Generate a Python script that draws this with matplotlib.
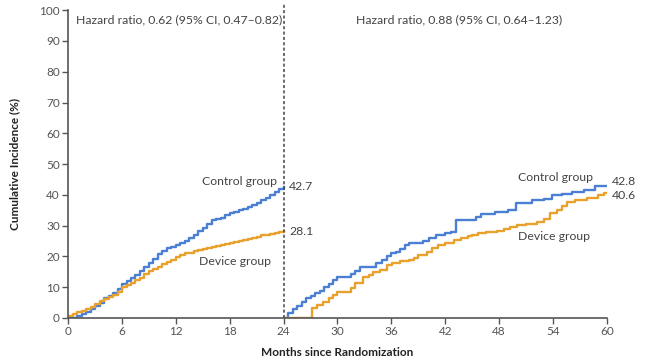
import matplotlib
matplotlib.use("Agg")
import matplotlib.pyplot as plt

# Months and cumulative incidence (%), first period 0-24
t1 = [0, 0.5, 1, 1.5, 2, 2.5, 3, 3.5, 4, 4.5, 5, 5.5, 6, 6.5, 7, 7.5, 8, 8.5,
      9, 9.5, 10, 10.5, 11, 11.5, 12, 12.5, 13, 13.5, 14, 14.5, 15, 15.5, 16,
      16.5, 17, 17.5, 18, 18.5, 19, 19.5, 20, 20.5, 21, 21.5, 22, 22.5, 23,
      23.5, 24]
control1 = [0, 0, 0.5, 1.2, 2, 2.8, 3.8, 5, 6.5, 7.2, 8, 9.5, 11, 12, 13, 14,
            15.3, 16.5, 17.8, 19.3, 20.8, 21.8, 22.6, 23, 23.6, 24.2, 25, 26,
            27, 28.2, 29.3, 30.6, 31.8, 32.3, 32.6, 33.3, 34, 34.5, 35, 35.5,
            36.1, 36.8, 37.5, 38.2, 38.9, 39.8, 40.8, 41.8, 42.7]
device1 = [0.5, 1.2, 1.8, 2.3, 3, 3.6, 4.5, 5.5, 6.3, 6.8, 7.5, 8.6, 10, 10.8,
           11.5, 12.2, 13, 14.2, 15.3, 16, 16.6, 17.4, 18.3, 19, 19.8, 20.4,
           21, 21.2, 21.6, 22, 22.3, 22.6, 22.9, 23.3, 23.7, 24.1, 24.4, 24.7,
           25, 25.3, 25.6, 26, 26.4, 26.8, 27.1, 27.4, 27.7, 27.9, 28.1]

# second period 24-60
t2c = [24, 24.5, 25, 25.5, 26, 26.5, 27, 27.5, 28, 28.5, 29, 29.5, 30, 30.7,
       31.5, 32, 32.5, 33.8, 34.3, 35, 35.5, 36, 36.5, 37, 37.5, 38, 39.5,
       40.2, 41, 42, 42.6, 43.2, 45, 45.4, 46, 47, 47.6, 49, 49.9, 51, 51.7,
       53, 53.9, 55, 56.1, 57.5, 58.7, 60]
control2 = [0, 1.5, 3, 4, 5.2, 6.4, 7, 8, 8.8, 10, 11, 12.5, 13.4, 13.4, 14.2,
            15.2, 16.7, 16.7, 17.8, 19, 20, 21, 21.5, 22.5, 23.7, 24.5, 25,
            25.9, 27, 27.5, 28, 31.8, 31.8, 32.9, 33.7, 33.7, 34.5, 35.2, 37.2,
            37.2, 38.3, 38.8, 39.9, 40.2, 41, 41.5, 42.8, 42.8]
t2d = [24, 26.7, 27.2, 27.7, 28.4, 29, 29.5, 30, 31.5, 32, 32.8, 33.5, 34,
       34.7, 35.5, 36.1, 37, 38, 38.5, 39, 40, 40.5, 41.2, 42, 43, 43.8, 44.5,
       45, 45.6, 46.5, 47.8, 48.5, 49.2, 50, 51, 52.2, 53, 53.7, 54.5, 55,
       55.6, 56.5, 57.8, 59, 59.7, 60]
device2 = [0, 0, 3.2, 4.2, 5.3, 6.5, 7.5, 8.5, 9.7, 11.5, 13.4, 14, 14.8, 15.6,
           17.2, 18, 18.6, 19, 19.5, 20.5, 21.5, 22.6, 23.7, 24.5, 25.2, 25.9,
           26.5, 27, 27.5, 27.8, 28.4, 29, 29.6, 30.2, 30.6, 31.3, 32, 34, 35,
           36.5, 37.8, 38.2, 38.9, 40, 40.6, 40.6]

hr_labels = ["Hazard ratio, 0.62 (95% CI, 0.47\u20130.82)",
             "Hazard ratio, 0.88 (95% CI, 0.64\u20131.23)"]
end_labels = ["42.7", "28.1", "42.8", "40.6"]

blue = "#4a7fd3"
orange = "#e9a12e"
grey = "#555555"
font = "Lato"

fig = plt.figure(figsize=(6.49, 3.63), dpi=100)
ax = fig.add_axes([0.105, 0.124, 0.83, 0.848])

ax.step(t1, control1, where="post", color=blue, lw=1.7)
ax.step(t1, device1, where="post", color=orange, lw=1.7)
ax.step(t2c, control2, where="post", color=blue, lw=1.7)
ax.step(t2d, device2, where="post", color=orange, lw=1.7)

ax.axvline(24, ymin=0, ymax=1.02, color="#444444", lw=1.1, ls=(0, (2, 1.5)),
           clip_on=False)

ax.set_xlim(0, 60)
ax.set_ylim(0, 100)
ax.set_xticks(range(0, 61, 6))
ax.set_yticks(range(0, 101, 10))
for s in ["top", "right"]:
    ax.spines[s].set_visible(False)
for s in ["left", "bottom"]:
    ax.spines[s].set_color(grey)
    ax.spines[s].set_linewidth(1.2)
ax.tick_params(colors=grey, length=4, width=1, labelsize=8.5, pad=2)
for lab in ax.get_xticklabels() + ax.get_yticklabels():
    lab.set_fontfamily(font)

ax.set_xlabel("Months since Randomization", fontsize=8.5, fontweight="bold",
              family=font, color="#222222", labelpad=7)
ax.set_ylabel("Cumulative Incidence (%)", fontsize=8.5, fontweight="bold",
              family=font, color="#222222", labelpad=14)

txt = dict(fontsize=8.8, family=font, color="#444444")
ax.text(0.9, 97, hr_labels[0], va="center", ha="left", **txt)
ax.text(32.1, 97, hr_labels[1], va="center", ha="left", **txt)

ax.text(23.3, 44.5, "Control group", ha="right", va="center", **txt)
ax.text(18.6, 18.5, "Device group", ha="center", va="center", **txt)
ax.text(24.6, 42.7, end_labels[0], ha="left", va="center", **txt)
ax.text(24.6, 28.1, end_labels[1], ha="left", va="center", **txt)

ax.text(58.5, 45.5, "Control group", ha="right", va="center", **txt)
ax.text(54.1, 26.5, "Device group", ha="center", va="center", **txt)
ax.text(60.6, 44.5, end_labels[2], ha="left", va="center", **txt)
ax.text(60.6, 39.8, end_labels[3], ha="left", va="center", **txt)

fig.savefig("out.png", dpi=100)
